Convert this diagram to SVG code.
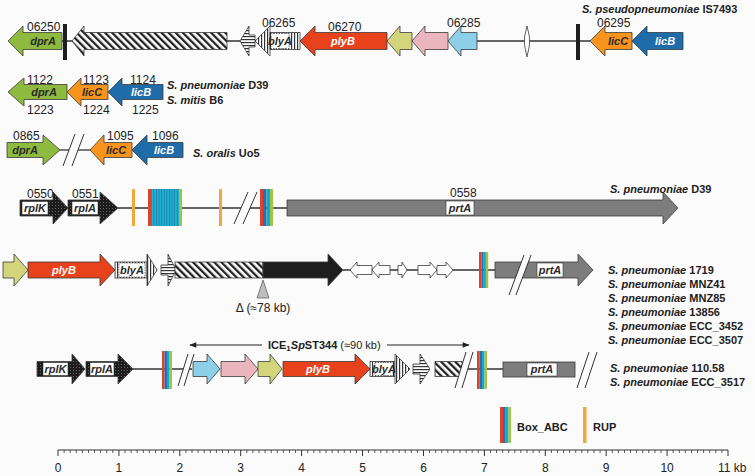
<svg xmlns="http://www.w3.org/2000/svg" width="755" height="476" viewBox="0 0 755 476">
<style>
.ln{stroke:#333;stroke-width:1.3;fill:none}
.g{stroke:#3a3a3a;stroke-width:0.8}
.num{font-family:"Liberation Sans",Arial,sans-serif;font-size:12px;fill:#222}
.gn{font-family:"Liberation Sans",Arial,sans-serif;font-size:11px;font-weight:bold;font-style:italic;text-anchor:middle;fill:#2a2a2a}
.gw{fill:#fff}
.sp{font-family:"Liberation Sans",Arial,sans-serif;font-size:11px;font-weight:bold;fill:#222}
.dprA{fill:#8dba3f}.licC{fill:#f7941e}.licB{fill:#1f6cab}.plyB{fill:#e8421d}
.yg{fill:#d3d57c}.pk{fill:#eab5bd}.lb{fill:#8dcfe7}.gr{fill:#7d7d7d}.blk{fill:#1e1e1e}
.wb{fill:#fff;stroke:#333;stroke-width:0.6}
.wd{fill:#fff;stroke:#333;stroke-width:0.6;stroke-dasharray:1.5 1}
.rup{fill:#f2a93b}
.br{stroke:#333;stroke-width:1}
.wh{fill:#fbfbfb}
</style>
<defs>
<pattern id="diag" width="5" height="5" patternUnits="userSpaceOnUse" patternTransform="rotate(-45)"><rect width="5" height="5" fill="#fff"/><rect width="2.3" height="5" fill="#222"/></pattern>
<pattern id="hs" width="3" height="3" patternUnits="userSpaceOnUse"><rect width="3" height="3" fill="#fff"/><rect width="3" height="1.2" fill="#333"/></pattern>
<pattern id="vs" width="3" height="3" patternUnits="userSpaceOnUse"><rect width="3" height="3" fill="#fff"/><rect width="1.2" height="3" fill="#333"/></pattern>
<pattern id="dk" width="3" height="3" patternUnits="userSpaceOnUse"><rect width="3" height="3" fill="#1c1c1c"/><rect x="1" y="1" width="1" height="1" fill="#666"/></pattern>
<pattern id="cy" width="2.6" height="4" patternUnits="userSpaceOnUse"><rect width="2.6" height="4" fill="#1fb0cf"/><rect width="0.6" height="4" fill="#1f6ca6"/></pattern>
<marker id="ah" viewBox="0 0 10 10" refX="9" refY="5" markerWidth="8" markerHeight="7" orient="auto-start-reverse" markerUnits="userSpaceOnUse"><path d="M0,1 L10,5 L0,9 Z" fill="#222"/></marker>
</defs>
<rect width="755" height="476" fill="#fbfbfb"/>

<g id="connectors">
<line class="ln" x1="62" y1="41" x2="590" y2="41"/>
<line class="ln" x1="60" y1="150" x2="90" y2="150"/>
<line class="ln" x1="118" y1="208" x2="287" y2="208"/>
<line class="ln" x1="343" y1="270" x2="495" y2="270"/>
<line class="ln" x1="133" y1="369" x2="192" y2="369"/>
<line class="ln" x1="461" y1="369" x2="503" y2="369"/>
<line x1="190" y1="345" x2="262" y2="345" stroke="#222" stroke-width="1.2" marker-start="url(#ah)"/>
<line x1="387" y1="345" x2="469" y2="345" stroke="#222" stroke-width="1.2" marker-end="url(#ah)"/>
</g>

<!-- Row 1 -->
<g id="r1-dprA"><path class="g dprA" d="M62,32.5 H23 V26 L8,41 L23,56 V49.5 H62 Z"/><text class="gn" x="43" y="45">dprA</text></g>
<g id="r1-bar1"><rect x="63" y="24" width="4" height="36" fill="#1e1e1e"/></g>
<g id="r1-hatch"><path class="g" fill="url(#diag)" d="M227,32.5 H84 V26 L72,41 L84,56 V49.5 H227 Z"/></g>
<g id="r1-small"><path class="g" fill="url(#hs)" d="M255,35 H249 V26 L240,41 L249,56 V47 H255 Z"/></g>
<g id="r1-blyA"><path class="g" fill="url(#vs)" d="M270,26 L255,41 L270,56 Z"/><rect class="g" x="270" y="32.5" width="30" height="17" fill="url(#vs)"/><rect class="wd" x="271" y="33.5" width="18" height="15"/><text class="gn" x="280" y="44.5" font-size="9">blyA</text></g>
<g id="r1-plyB"><path class="g plyB" d="M387,32.5 H315 V26 L300,41 L315,56 V49.5 H387 Z"/><text class="gn gw" x="343" y="45">plyB</text></g>
<g id="r1-yg"><path class="g yg" d="M412,32.5 H400 V26 L387,41 L400,56 V49.5 H412 Z"/></g>
<g id="r1-pk"><path class="g pk" d="M448,32.5 H425 V26 L412,41 L425,56 V49.5 H448 Z"/></g>
<g id="r1-lb"><path class="g lb" d="M477,32.5 H461 V26 L448,41 L461,56 V49.5 H477 Z"/></g>
<g id="r1-tiny"><path class="g" fill="#fff" d="M527,26 L529.5,37 V45 L527,57 L524.5,45 V37 Z"/></g>
<g id="r1-bar2"><rect x="576" y="24" width="4" height="36" fill="#1e1e1e"/></g>
<g id="r1-licC"><path class="g licC" d="M632,32.5 H605 V26 L590,41 L605,56 V49.5 H632 Z"/><text class="gn" x="618" y="45">licC</text></g>
<g id="r1-licB"><path class="g licB" d="M683,32.5 H647 V26 L632,41 L647,56 V49.5 H683 Z"/><text class="gn gw" x="665" y="45">licB</text></g>
<g id="r1-labels">
<text class="num" x="27" y="31">06250</text>
<text class="num" x="262" y="27">06265</text>
<text class="num" x="328" y="31">06270</text>
<text class="num" x="447" y="27">06285</text>
<text class="num" x="597" y="27">06295</text>
<text class="sp" x="582" y="13"><tspan font-style="italic">S. pseudopneumoniae</tspan> IS7493</text>
</g>

<!-- Row 2 -->
<g id="r2-dprA"><path class="g dprA" d="M67,84.5 H24 V78 L8,92 L24,106 V99.5 H67 Z"/><text class="gn" x="44" y="96">dprA</text></g>
<g id="r2-licC"><path class="g licC" d="M108,84.5 H81 V78 L67,92 L81,106 V99.5 H108 Z"/><text class="gn" x="92" y="96">licC</text></g>
<g id="r2-licB"><path class="g licB" d="M163,84.5 H122 V78 L108,92 L122,106 V99.5 H163 Z"/><text class="gn gw" x="141" y="96">licB</text></g>
<g id="r2-labels">
<text class="num" x="27" y="84">1122</text>
<text class="num" x="83" y="84">1123</text>
<text class="num" x="130" y="84">1124</text>
<text class="num" x="27" y="114">1223</text>
<text class="num" x="83" y="114">1224</text>
<text class="num" x="132" y="114">1225</text>
<text class="sp" x="167" y="89"><tspan font-style="italic">S. pneumoniae</tspan> D39</text>
<text class="sp" x="167" y="104"><tspan font-style="italic">S. mitis</tspan> B6</text>
</g>

<!-- Row 3 -->
<g id="r3-dprA"><path class="g dprA" d="M7,142.5 H43 V135 L60,150 L43,165 V157.5 H7 Z"/><text class="gn" x="25" y="154">dprA</text></g>
<g id="r3-break"><path class="wh" d="M63,166 L75,134 L84,134 L72,166 Z"/><line class="br" x1="63" y1="166" x2="75" y2="134"/><line class="br" x1="72" y1="166" x2="84" y2="134"/></g>
<g id="r3-licC"><path class="g licC" d="M132,142.5 H104 V135 L90,150 L104,165 V157.5 H132 Z"/><text class="gn" x="116" y="154">licC</text></g>
<g id="r3-licB"><path class="g licB" d="M183,142.5 H147 V135 L132,150 L147,165 V157.5 H183 Z"/><text class="gn gw" x="164" y="154">licB</text></g>
<g id="r3-labels">
<text class="num" x="13" y="140">0865</text>
<text class="num" x="107" y="140">1095</text>
<text class="num" x="152" y="140">1096</text>
<text class="sp" x="193" y="157"><tspan font-style="italic">S. oralis</tspan> Uo5</text>
</g>

<!-- Row 4 -->
<g id="r4-rplK"><path class="g" fill="url(#dk)" d="M20,200 H53 V192 L68,208 L53,224 V216 H20 Z"/><rect class="wb" x="22" y="201.5" width="26" height="13"/><text class="gn" x="35" y="211.5" font-size="10">rplK</text></g>
<g id="r4-rplA"><path class="g" fill="url(#dk)" d="M68,200 H100 V192 L118,208 L100,224 V216 H68 Z"/><rect class="wb" x="72" y="201.5" width="26" height="13"/><text class="gn" x="85" y="211.5" font-size="10">rplA</text></g>
<g id="r4-rup1"><rect class="rup" x="132" y="189" width="3" height="37"/></g>
<g id="r4-box1"><rect x="148" y="189" width="3" height="37" fill="#d9442b"/><rect x="151" y="189" width="28" height="37" fill="url(#cy)"/><rect x="179" y="189" width="3" height="37" fill="#9cc64a"/></g>
<g id="r4-rup2"><rect class="rup" x="219" y="189" width="3" height="37"/></g>
<g id="r4-break"><path class="wh" d="M234,224 L248,192 L257,192 L243,224 Z"/><line class="br" x1="234" y1="224" x2="248" y2="192"/><line class="br" x1="243" y1="224" x2="257" y2="192"/></g>
<g id="r4-box2"><rect x="260" y="189" width="3" height="37" fill="#d9442b"/><rect x="263" y="189" width="3.5" height="37" fill="#2b6db3"/><rect x="266.5" y="189" width="3.5" height="37" fill="#1aa6c9"/><rect x="270" y="189" width="3" height="37" fill="#9cc64a"/></g>
<g id="r4-prtA"><path class="g gr" d="M287,200 H663 V192 L678,208 L663,224 V216 H287 Z"/><rect class="wb" x="446" y="201" width="28" height="14"/><text class="gn" x="460" y="211.5">prtA</text></g>
<g id="r4-labels">
<text class="num" x="27" y="198">0550</text>
<text class="num" x="72" y="198">0551</text>
<text class="num" x="450" y="197">0558</text>
<text class="sp" x="610" y="193"><tspan font-style="italic">S. pneumoniae</tspan> D39</text>
</g>

<!-- Row 5 -->
<g id="r5-yg"><path class="g yg" d="M3,262 H14 V254 L28,270 L14,286 V278 H3 Z"/></g>
<g id="r5-plyB"><path class="g plyB" d="M28,262 H100 V254 L115,270 L100,286 V278 H28 Z"/><text class="gn gw" x="64" y="274">plyB</text></g>
<g id="r5-blyA"><rect class="g" x="115" y="262" width="32" height="16" fill="url(#vs)"/><path class="g" fill="url(#vs)" d="M147,254 L157,270 L147,286 Z"/><rect class="wd" x="119" y="263" width="26" height="14"/><text class="gn" x="132" y="273.5" font-size="10">blyA</text></g>
<g id="r5-small"><path class="g" fill="url(#hs)" d="M161,265 H168 V254 L176,270 L168,286 V275 H161 Z"/></g>
<g id="r5-big"><rect class="g" x="175" y="262" width="88" height="16" fill="url(#diag)"/><path class="g blk" d="M263,262 H328 V254 L343,270 L328,286 V278 H263 Z"/></g>
<g id="r5-delta"><path d="M263,280 L257,298 L269,298 Z" fill="#bdbdbd" stroke="#666" stroke-width="0.8"/><text class="num" x="263" y="312" text-anchor="middle">Δ (≈78 kb)</text></g>
<g id="r5-w1"><path class="g" fill="#fff" d="M372,265.5 H357 V262 L350,270 L357,278 V274.5 H372 Z"/></g>
<g id="r5-w2"><path class="g" fill="#fff" d="M390,265.5 H379 V262 L372,270 L379,278 V274.5 H390 Z"/></g>
<g id="r5-w3"><path class="g" fill="#fff" d="M398,265.5 H402 V262 L407,270 L402,278 V274.5 H398 Z"/></g>
<g id="r5-w4"><path class="g" fill="#fff" d="M418,265.5 H430 V262 L437,270 L430,278 V274.5 H418 Z"/></g>
<g id="r5-w5"><path class="g" fill="#fff" d="M437,265.5 H446 V262 L453,270 L446,278 V274.5 H437 Z"/></g>
<g id="r5-box"><rect x="479" y="252" width="2.5" height="36" fill="#d9442b"/><rect x="481.5" y="252" width="2.2" height="36" fill="#2b6db3"/><rect x="483.7" y="252" width="2.2" height="36" fill="#1aa6c9"/><rect x="485.9" y="252" width="2.3" height="36" fill="#9cc64a"/></g>
<g id="r5-prtA"><path class="g gr" d="M495,262 H578 V254 L593,270 L578,286 V278 H495 Z"/><path class="wh" d="M509,295 L524,255 L531,255 L516,295 Z"/><line class="br" x1="509" y1="295" x2="524" y2="255"/><line class="br" x1="516" y1="295" x2="531" y2="255"/><rect class="wb" x="537" y="263" width="26" height="14"/><text class="gn" x="550" y="273.5">prtA</text></g>
<g id="r5-labels">
<text class="sp" x="608" y="274"><tspan font-style="italic">S. pneumoniae</tspan> 1719</text>
<text class="sp" x="608" y="288"><tspan font-style="italic">S. pneumoniae</tspan> MNZ41</text>
<text class="sp" x="608" y="302"><tspan font-style="italic">S. pneumoniae</tspan> MNZ85</text>
<text class="sp" x="608" y="316"><tspan font-style="italic">S. pneumoniae</tspan> 13856</text>
<text class="sp" x="608" y="330"><tspan font-style="italic">S. pneumoniae</tspan> ECC_3452</text>
<text class="sp" x="608" y="344"><tspan font-style="italic">S. pneumoniae</tspan> ECC_3507</text>
</g>

<!-- Row 6 -->
<g id="r6-rplK"><path class="g" fill="url(#dk)" d="M37,361.5 H72 V354 L85,369 L72,384 V376.5 H37 Z"/><rect class="wb" x="43" y="362.5" width="25" height="13"/><text class="gn" x="55.5" y="372.5" font-size="10">rplK</text></g>
<g id="r6-rplA"><path class="g" fill="url(#dk)" d="M86,361.5 H118 V354 L133,369 L118,384 V376.5 H86 Z"/><rect class="wb" x="90" y="362.5" width="24" height="13"/><text class="gn" x="102" y="372.5" font-size="10">rplA</text></g>
<g id="r6-box1"><rect x="162" y="351" width="2.5" height="38" fill="#d9442b"/><rect x="164.5" y="351" width="2.5" height="38" fill="#2b6db3"/><rect x="167" y="351" width="2.5" height="38" fill="#1aa6c9"/><rect x="169.5" y="351" width="2.5" height="38" fill="#9cc64a"/></g>
<g id="r6-break1"><path class="wh" d="M178,386 L188,354 L194,354 L184,386 Z"/><line class="br" x1="178" y1="386" x2="188" y2="354"/><line class="br" x1="184" y1="386" x2="194" y2="354"/></g>
<g id="r6-lb"><path class="g lb" d="M193,361.5 H207 V354 L220,369 L207,384 V376.5 H193 Z"/></g>
<g id="r6-pk"><path class="g pk" d="M221,361.5 H245 V354 L258,369 L245,384 V376.5 H221 Z"/></g>
<g id="r6-yg"><path class="g yg" d="M258,361.5 H270 V354 L282,369 L270,384 V376.5 H258 Z"/></g>
<g id="r6-plyB"><path class="g plyB" d="M283,361.5 H355 V354 L370,369 L355,384 V376.5 H283 Z"/><text class="gn gw" x="318" y="373">plyB</text></g>
<g id="r6-blyA"><rect class="g" x="370" y="361.5" width="25" height="15" fill="url(#vs)"/><path class="g" fill="url(#vs)" d="M395,354 L410,369 L395,384 Z"/><rect class="wd" x="375" y="362.5" width="18" height="13"/><text class="gn" x="384" y="372.5" font-size="9">blyA</text></g>
<g id="r6-small"><path class="g" fill="url(#hs)" d="M413,364 H420 V354 L430,369 L420,384 V374 H413 Z"/></g>
<g id="r6-hatch"><rect class="g" x="435" y="361.5" width="27" height="15" fill="url(#diag)"/><path class="wh" d="M455,388 L466,352 L473,352 L462,388 Z"/><line class="br" x1="455" y1="388" x2="466" y2="352"/><line class="br" x1="462" y1="388" x2="473" y2="352"/></g>
<g id="r6-box2"><rect x="477" y="351" width="2.5" height="38" fill="#d9442b"/><rect x="479.5" y="351" width="2.5" height="38" fill="#2b6db3"/><rect x="482" y="351" width="2.5" height="38" fill="#1aa6c9"/><rect x="484.5" y="351" width="2.5" height="38" fill="#9cc64a"/></g>
<g id="r6-prtA"><rect class="g gr" x="503" y="362" width="72" height="15"/><rect class="wb" x="527" y="363" width="30" height="13"/><text class="gn" x="542" y="373">prtA</text><line class="br" x1="577" y1="388" x2="589" y2="352"/><line class="br" x1="585" y1="388" x2="597" y2="352"/></g>
<g id="r6-labels">
<text class="sp" x="268" y="349">ICE<tspan font-size="8" dy="2">1</tspan><tspan dy="-2" font-style="italic">Sp</tspan>ST344<tspan font-weight="normal"> (≈90 kb)</tspan></text>
<text class="sp" x="610" y="372"><tspan font-style="italic">S. pneumoniae</tspan> 110.58</text>
<text class="sp" x="610" y="386"><tspan font-style="italic">S. pneumoniae</tspan> ECC_3517</text>
</g>

<!-- Legend -->
<g id="legend-box"><rect x="500" y="407" width="3" height="36" fill="#d9442b"/><rect x="503" y="407" width="2.7" height="36" fill="#2b6db3"/><rect x="505.7" y="407" width="2.7" height="36" fill="#1aa6c9"/><rect x="508.4" y="407" width="2.6" height="36" fill="#9cc64a"/><text class="sp" x="517" y="431" font-size="12">Box_ABC</text></g>
<g id="legend-rup"><rect class="rup" x="583" y="407" width="3.5" height="36"/><text class="sp" x="593" y="431" font-size="12">RUP</text></g>

<!-- Scale -->
<g id="scale">
<line x1="58" y1="450" x2="728" y2="450" stroke="#333" stroke-width="1"/>
<path stroke="#333" stroke-width="1" fill="none" d="M58,450v6 M118.9,450v6 M179.8,450v6 M240.7,450v6 M301.6,450v6 M362.5,450v6 M423.5,450v6 M484.4,450v6 M545.3,450v6 M606.2,450v6 M667.1,450v6 M728,450v6"/>
<path stroke="#333" stroke-width="0.8" fill="none" d="M64.1,450v3M70.2,450v3M76.3,450v3M82.4,450v3M88.5,450v3M94.5,450v3M100.6,450v3M106.7,450v3M112.8,450v3M125,450v3M131.1,450v3M137.2,450v3M143.3,450v3M149.4,450v3M155.5,450v3M161.5,450v3M167.6,450v3M173.7,450v3M185.9,450v3M192,450v3M198.1,450v3M204.2,450v3M210.3,450v3M216.4,450v3M222.5,450v3M228.5,450v3M234.6,450v3M246.8,450v3M252.9,450v3M259,450v3M265.1,450v3M271.2,450v3M277.3,450v3M283.4,450v3M289.5,450v3M295.5,450v3M307.7,450v3M313.8,450v3M319.9,450v3M326,450v3M332.1,450v3M338.2,450v3M344.3,450v3M350.4,450v3M356.5,450v3M368.6,450v3M374.7,450v3M380.8,450v3M386.9,450v3M393,450v3M399.1,450v3M405.2,450v3M411.3,450v3M417.4,450v3M429.5,450v3M435.6,450v3M441.7,450v3M447.8,450v3M453.9,450v3M460,450v3M466.1,450v3M472.2,450v3M478.3,450v3M490.5,450v3M496.5,450v3M502.6,450v3M508.7,450v3M514.8,450v3M520.9,450v3M527,450v3M533.1,450v3M539.2,450v3M551.4,450v3M557.5,450v3M563.5,450v3M569.6,450v3M575.7,450v3M581.8,450v3M587.9,450v3M594,450v3M600.1,450v3M612.3,450v3M618.4,450v3M624.5,450v3M630.5,450v3M636.6,450v3M642.7,450v3M648.8,450v3M654.9,450v3M661,450v3M673.2,450v3M679.3,450v3M685.4,450v3M691.5,450v3M697.5,450v3M703.6,450v3M709.7,450v3M715.8,450v3M721.9,450v3"/>
<g class="num" text-anchor="middle">
<text x="58" y="472">0</text><text x="118.9" y="472">1</text><text x="179.8" y="472">2</text><text x="240.7" y="472">3</text><text x="301.6" y="472">4</text><text x="362.5" y="472">5</text><text x="423.5" y="472">6</text><text x="484.4" y="472">7</text><text x="545.3" y="472">8</text><text x="606.2" y="472">9</text><text x="667.1" y="472">10</text>
</g>
<text class="num" x="718" y="472">11 kb</text>
</g>
</svg>
